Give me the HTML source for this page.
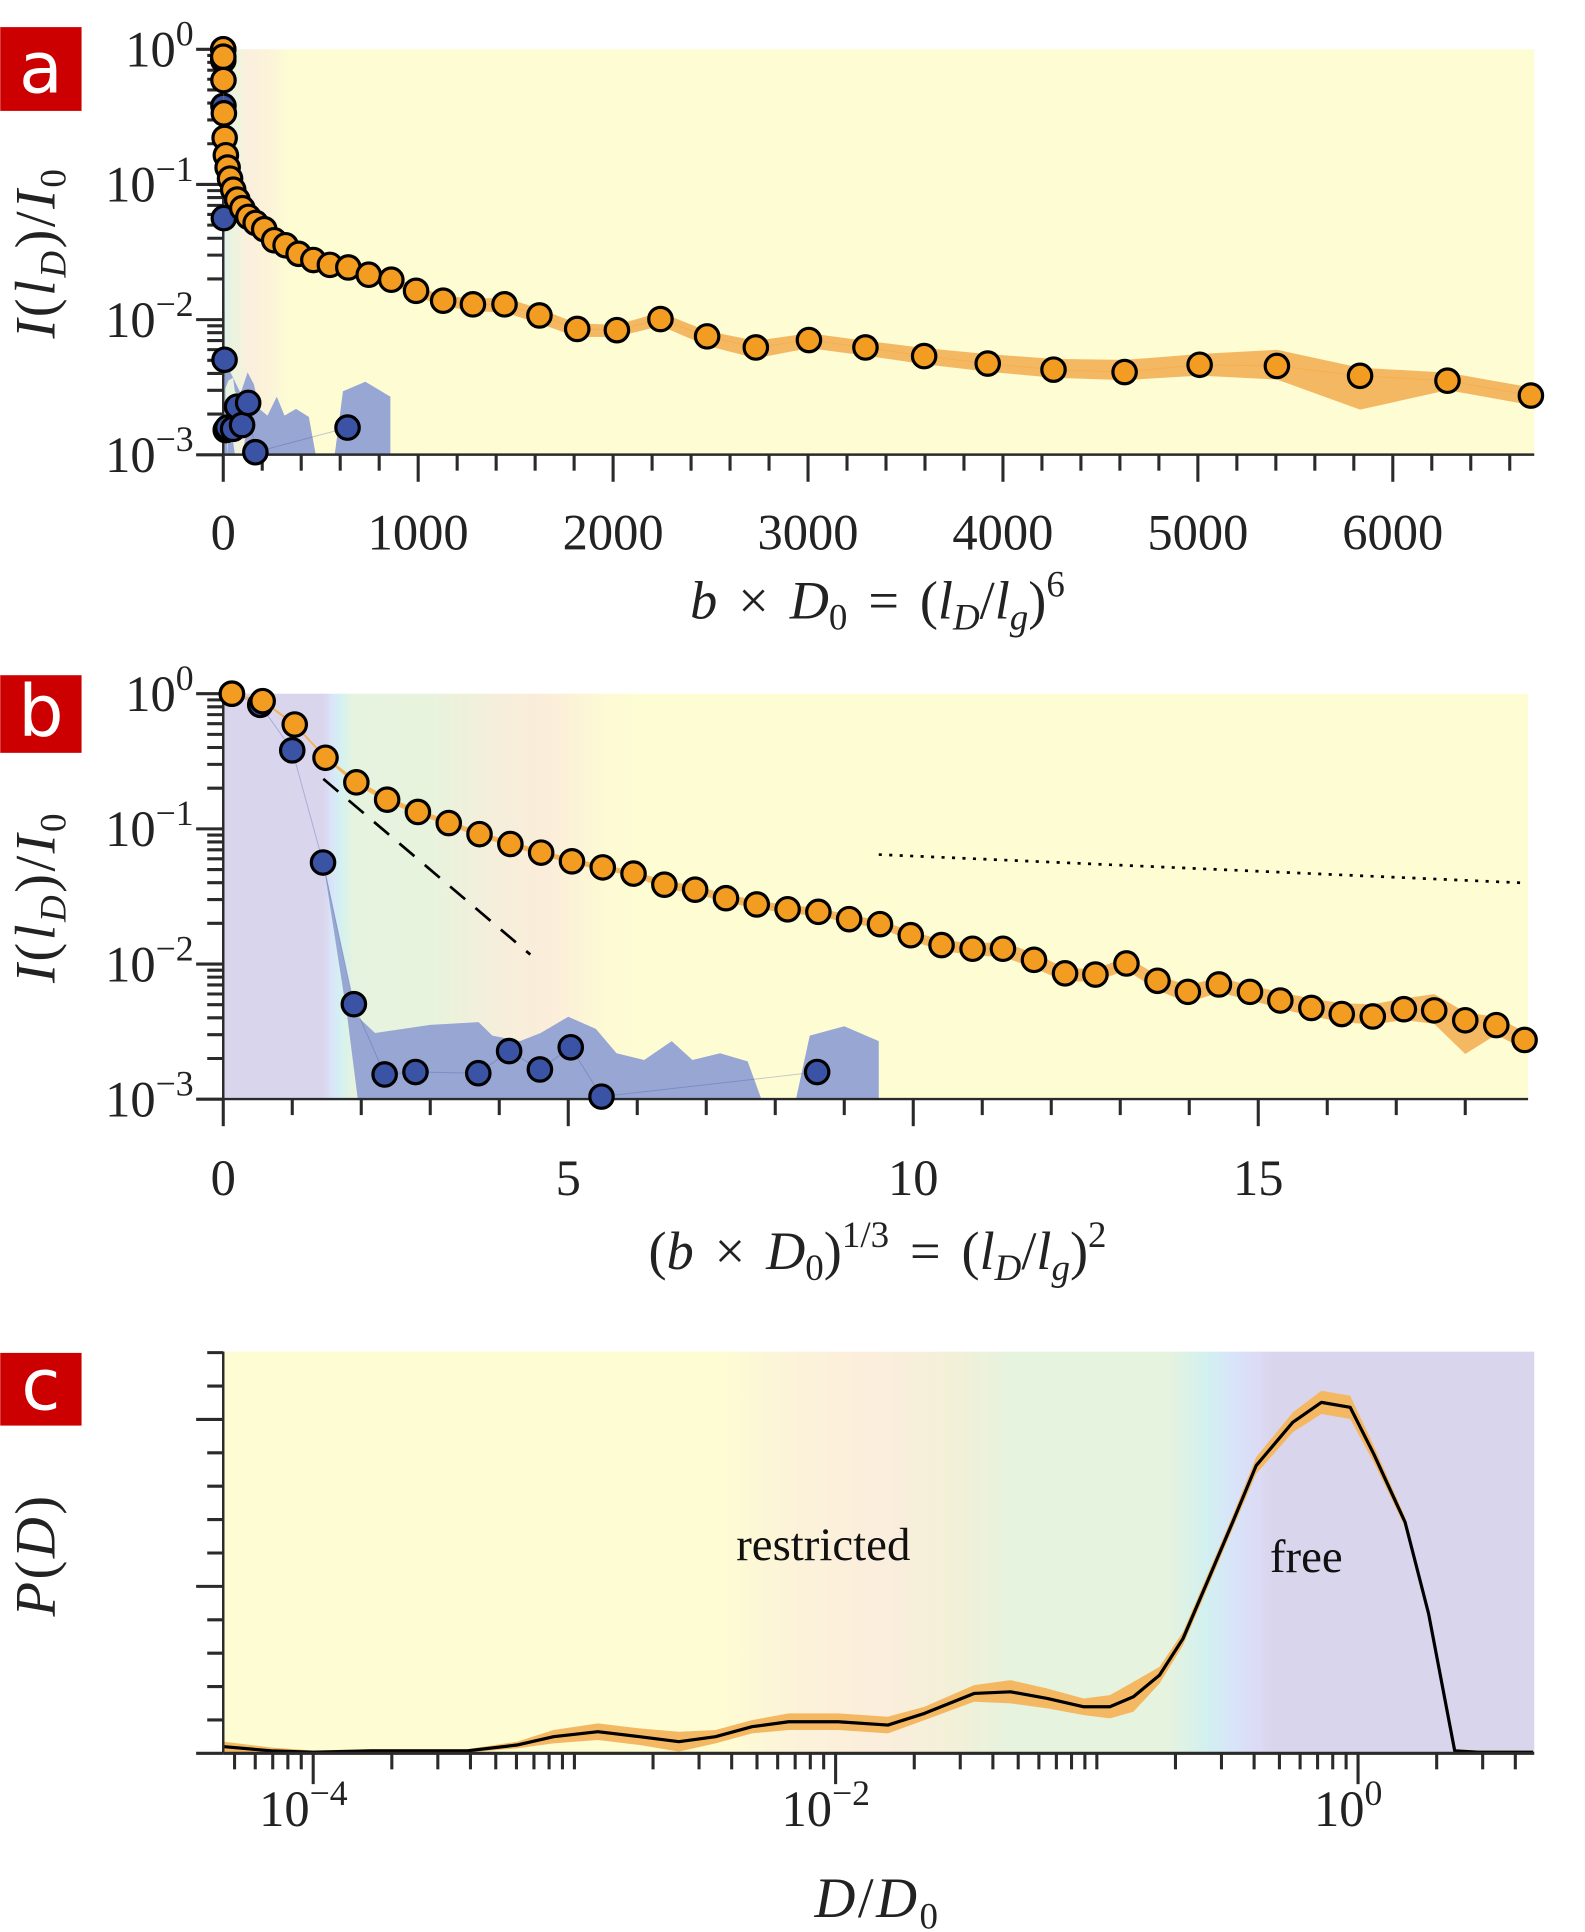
<!DOCTYPE html>
<html><head><meta charset="utf-8"><style>
html,body{margin:0;padding:0;background:#fff;}
svg{display:block;}
text{font-family:"Liberation Serif",serif;fill:#222;}
.it{font-style:italic;}
</style></head><body>
<svg id="fig" width="1585" height="1932" viewBox="0 0 1286 1568" xmlns="http://www.w3.org/2000/svg">
<defs>
<linearGradient id="gA" x1="181" x2="1245" y1="0" y2="0" gradientUnits="userSpaceOnUse">
<stop offset="0" stop-color="#e3f2e6"/><stop offset="0.01" stop-color="#eef3dd"/><stop offset="0.02" stop-color="#fbefdd"/><stop offset="0.035" stop-color="#fcf3d8"/><stop offset="0.05" stop-color="#fdfcd3"/><stop offset="1" stop-color="#fdfcd3"/>
</linearGradient>
<linearGradient id="gB" x1="181" x2="1240" y1="0" y2="0" gradientUnits="userSpaceOnUse">
<stop offset="0" stop-color="#d9d5ec"/><stop offset="0.077" stop-color="#d9d5ec"/><stop offset="0.083" stop-color="#d9e4f8"/><stop offset="0.09" stop-color="#d4f1f1"/><stop offset="0.1" stop-color="#e6f3de"/><stop offset="0.16" stop-color="#e8f3dd"/><stop offset="0.21" stop-color="#f5eedb"/><stop offset="0.25" stop-color="#fbedda"/><stop offset="0.29" stop-color="#fdf9d4"/><stop offset="0.32" stop-color="#fdfcd3"/><stop offset="1" stop-color="#fdfcd3"/>
</linearGradient>
<linearGradient id="gC" x1="181" x2="1245" y1="0" y2="0" gradientUnits="userSpaceOnUse">
<stop offset="0" stop-color="#fdfcd3"/><stop offset="0.38" stop-color="#fdfcd3"/><stop offset="0.44" stop-color="#fcf2da"/><stop offset="0.5" stop-color="#fbeedc"/><stop offset="0.56" stop-color="#f2f0d8"/><stop offset="0.6" stop-color="#e6f3de"/><stop offset="0.72" stop-color="#e6f3de"/><stop offset="0.75" stop-color="#d2f0f0"/><stop offset="0.77" stop-color="#d8e4f8"/><stop offset="0.79" stop-color="#dcdaf5"/><stop offset="0.8" stop-color="#d9d5ec"/><stop offset="1" stop-color="#d9d5ec"/>
</linearGradient>
</defs>
<g id="root"></g>
</svg>
<script>
// ---- panel a/b data: x = (b*D0)^(1/3), y = log10 I/I0 ----
const orangeX = [0.125,0.571,1.036,1.482,1.929,2.375,2.821,3.268,3.714,4.161,4.607,5.054,5.5,5.946,6.393,6.839,7.286,7.732,8.179,8.625,9.071,9.518,9.964,10.41,10.86,11.30,11.75,12.20,12.64,13.09,13.54,13.98,14.43,14.88,15.32,15.77,16.21,16.66,17.11,17.55,18.0,18.45,18.86];
const orangeLogY = [0,-0.055,-0.228,-0.474,-0.656,-0.784,-0.875,-0.957,-1.039,-1.112,-1.176,-1.24,-1.285,-1.331,-1.413,-1.45,-1.513,-1.559,-1.595,-1.614,-1.668,-1.705,-1.787,-1.86,-1.887,-1.887,-1.969,-2.069,-2.078,-1.996,-2.124,-2.206,-2.151,-2.206,-2.27,-2.325,-2.37,-2.388,-2.334,-2.343,-2.416,-2.452,-2.562];
const orangeBandUp = [0.01,0.01,0.01,0.01,0.02,0.02,0.02,0.02,0.02,0.02,0.02,0.02,0.02,0.02,0.03,0.03,0.03,0.03,0.03,0.03,0.03,0.03,0.03,0.04,0.04,0.05,0.05,0.04,0.04,0.05,0.04,0.05,0.05,0.05,0.06,0.07,0.08,0.09,0.08,0.12,0.06,0.06,0.06];
const orangeBandDn = [0.01,0.01,0.01,0.01,0.02,0.02,0.02,0.02,0.02,0.02,0.02,0.02,0.02,0.02,0.03,0.03,0.03,0.03,0.03,0.03,0.03,0.03,0.04,0.04,0.05,0.06,0.06,0.06,0.05,0.05,0.07,0.08,0.06,0.06,0.06,0.06,0.06,0.06,0.08,0.10,0.25,0.07,0.07];
const blueX = [0.125,0.536,1.0,1.446,1.893,2.339,2.786,3.696,4.143,4.589,5.036,5.482,8.607];
const blueLogY = [0,-0.082,-0.419,-1.249,-2.297,-2.817,-2.799,-2.808,-2.644,-2.78,-2.616,-2.981,-2.799];
const blueBandX = [1.893,1.95,2.2,3.0,3.7,3.9,4.3,4.6,5.0,5.4,5.7,6.1,6.5,6.8,7.2,7.6,7.8,8.3,8.5,9.0,9.5];
const blueBandLogY = [-2.3,-2.39,-2.51,-2.45,-2.43,-2.53,-2.57,-2.51,-2.39,-2.48,-2.66,-2.71,-2.57,-2.71,-2.66,-2.72,-3.0,-3.0,-2.53,-2.46,-2.57];
const dashedX = [1.45,4.45], dashedLogY = [-0.63,-1.93];
const dottedX = [9.5,18.85], dottedLogY = [-1.19,-1.40];
const tickA = ['0','1000','2000','3000','4000','5000','6000'];
const tickB = ['0','5','10','15'];
// ---- panel c data ----
const cLogD = [-4.34,-4.16,-4.0,-3.78,-3.55,-3.41,-3.22,-3.08,-2.91,-2.75,-2.60,-2.46,-2.32,-2.18,-1.99,-1.80,-1.66,-1.47,-1.33,-1.19,-1.05,-0.95,-0.86,-0.76,-0.67,-0.58,-0.48,-0.39,-0.25,-0.14,-0.03,0.06,0.18,0.27,0.37,0.46,0.67];
const cP = [0.04,0.015,0.007,0.015,0.015,0.015,0.05,0.10,0.13,0.10,0.07,0.10,0.16,0.19,0.19,0.17,0.24,0.36,0.37,0.33,0.28,0.28,0.34,0.47,0.69,1.02,1.39,1.73,1.99,2.11,2.08,1.80,1.39,0.84,0.015,0.007,0.007];
const cBand = [0.03,0.02,0.01,0.01,0.01,0.01,0.02,0.04,0.05,0.05,0.06,0.04,0.04,0.05,0.05,0.05,0.04,0.05,0.07,0.06,0.05,0.07,0.09,0.05,0.04,0.04,0.04,0.05,0.06,0.07,0.07,0.05,0.03,0.02,0.01,0.01,0.01];
const tickC = ['−4','−2','0'];

const NS='http://www.w3.org/2000/svg';
const root=document.getElementById('root');
function mk(tag,attrs,parent){const e=document.createElementNS(NS,tag);for(const k in attrs)e.setAttribute(k,attrs[k]);(parent||root).appendChild(e);return e;}
const xA=v=>181+v*0.1582, yA=l=>40-l*109.7;
const xB=v=>181+v*56, yB=l=>563-l*109.7;
const xC=l=>678+(l+2)*212, yC=p=>1423-p*135;
const SUB='<tspan font-size="30" dy="9">', SUP='font-size="30"';

function panelBox(x0,y0,x1,y1,grad,name){
  const r=mk('rect',{x:x0,y:y0,width:x1-x0,height:y1-y0,fill:'url(#'+grad+')'});
  
  
}
function letter(y,h,ch){
  const g=mk('g',{});
  
  
  mk('rect',{x:0,y:y,width:66,height:h,fill:'#cc0000'},g);
  const t=mk('text',{x:33,y:y+h*0.78,'text-anchor':'middle','font-size':58,style:'font-family:"DejaVu Sans","Liberation Sans",sans-serif;fill:#fff'},g);
  t.textContent=ch;
}
function line(x1,y1,x2,y2,w,parent,extra){return mk('line',Object.assign({x1,y1,x2,y2,stroke:'#2a2a2a','stroke-width':w},extra||{}),parent);}
function logYAxis(ymap,x,name,yTop,yBot){
  const g=mk('g',{});
  
  
  line(x,yTop,x,yBot,2,g);
  for(let d=0;d>=-3;d--){
    line(x-22,ymap(d),x,ymap(d),2.5,g);
    const t=mk('text',{x:x-24,y:ymap(d)+14,'text-anchor':'end','font-size':41},g);
    
    
    t.innerHTML='10<tspan dy="-17" font-size="29">'+(d===0?'0':'−'+(-d))+'</tspan>';
    if(d>-3)for(let m=2;m<=9;m++){const yy=ymap(d-1+Math.log10(m));line(x-13,yy,x,yy,2.5,g);}
  }
}
function series(xs,ls,xmap,ymap,color,name,lineColor){
  const g=mk('g',{});
  
  
  const pl=mk('polyline',{points:xs.map((v,i)=>xmap(v)+','+ymap(ls[i])).join(' '),fill:'none',stroke:lineColor,'stroke-width':0.8,opacity:0.3},g);
  
  xs.forEach((v,i)=>{
    const c=mk('circle',{cx:xmap(v),cy:ymap(ls[i]),r:9.5,fill:color,stroke:'#000','stroke-width':2.6},g);
    
    
  });
}
function band(xs,up,dn,xmap,ymap,color,name,clipTop,clipBot){
  const pts=[];
  xs.forEach((v,i)=>pts.push(xmap(v)+','+Math.max(clipTop,ymap(up[i]))));
  for(let i=xs.length-1;i>=0;i--)pts.push(xmap(xs[i])+','+Math.min(clipBot,ymap(dn[i])));
  const p=mk('polygon',{points:pts.join(' '),fill:color});
  
  
}
const oUp=orangeLogY.map((v,i)=>v+orangeBandUp[i]);
const oDn=orangeLogY.map((v,i)=>v-orangeBandDn[i]);
const yTitle='<tspan class="it">I</tspan>(<tspan class="it">l</tspan><tspan class="it" font-size="30" dy="9">D</tspan><tspan dy="-9">)/</tspan><tspan class="it">I</tspan><tspan font-size="30" dy="9">0</tspan>';

// ===== Panel a =====
panelBox(181,40,1245,369,'gA','panel-a');
{
  const cube=v=>xA(v*v*v);
  const p=[];
  p.push(xA(0)+','+yA(-3));
  p.push(xA(0)+','+yA(-2.6));p.push(xA(8)+','+yA(-2.75));p.push(xA(18)+','+yA(-2.8));p.push(xA(22)+','+yA(-3));
  p.push(xA(30)+','+yA(-2.7));p.push(xA(45)+','+yA(-2.85));p.push(xA(60)+','+yA(-3));
  p.push(xA(100)+','+yA(-3));p.push(xA(140)+','+yA(-2.6));p.push(xA(165)+','+yA(-2.77));
  const bp=mk('polygon',{points:p.concat(blueBandX.map((v,i)=>cube(v)+','+yA(blueBandLogY[i]))).concat([cube(9.5)+','+yA(-3)]).join(' '),fill:'#97a6d3'});
  
  
  band(orangeX,oUp,oDn,cube,yA,'#f5b862','panel-a-orange-band',40,369);
  const ax=mk('g',{});
  
  
  line(181,369,1245,369,2,ax);
  for(let v=0;v<=6600;v+=200){const big=v%1000===0;line(xA(v),369,xA(v),big?391:382,2.5,ax);}
  tickA.forEach(s=>{const t=mk('text',{x:xA(+s),y:446,'text-anchor':'middle','font-size':41},ax);t.textContent=s;});
  logYAxis(yA,181,'panel-a-y-axis',40,369);
  series(blueX,blueLogY,v=>xA(v*v*v),yA,'#3a53a4','panel-a-blue-series','#3a53a4');
  series(orangeX,orangeLogY,v=>xA(v*v*v),yA,'#f39c22','panel-a-orange-series','#f39c22');
  const xl=mk('text',{x:712,y:502,'text-anchor':'middle','font-size':44,'word-spacing':6});
  
  
  xl.innerHTML='<tspan class="it">b</tspan>   × <tspan class="it">D</tspan>'+SUB+'0</tspan><tspan dy="-9"> = (</tspan><tspan class="it">l</tspan><tspan class="it" font-size="30" dy="9">D</tspan><tspan dy="-9">/</tspan><tspan class="it">l</tspan><tspan class="it" font-size="30" dy="9">g</tspan><tspan dy="-9">)</tspan><tspan '+SUP+' dy="-18">6</tspan>';
  const yl=mk('text',{x:0,y:0,transform:'translate(44,205) rotate(-90)','text-anchor':'middle','font-size':46,'letter-spacing':2});
  
  
  yl.innerHTML=yTitle;
}
letter(22,68,'a');

// ===== Panel b =====
panelBox(181,563,1240,892,'gB','panel-b');
{
  const p=[xB(1.45)+','+yB(-1.25)].concat(blueBandX.map((v,i)=>xB(v)+','+yB(blueBandLogY[i]))).concat([xB(9.5)+','+yB(-3),xB(1.95)+','+yB(-3),xB(1.8)+','+yB(-2.4)]);
  const bp=mk('polygon',{points:p.join(' '),fill:'#97a6d3'});
  
  
  band(orangeX,oUp,oDn,xB,yB,'#f5b862','panel-b-orange-band',563,892);
  const dl=mk('line',{x1:xB(dashedX[0]),y1:yB(dashedLogY[0]),x2:xB(dashedX[1]),y2:yB(dashedLogY[1]),stroke:'#000','stroke-width':2.2,'stroke-dasharray':'16,11'});
  
  
  const ol=mk('line',{x1:xB(dottedX[0]),y1:yB(dottedLogY[0]),x2:xB(dottedX[1]),y2:yB(dottedLogY[1]),stroke:'#000','stroke-width':2.2,'stroke-dasharray':'2.5,6'});
  
  
  const ax=mk('g',{});
  
  
  line(181,892,1240,892,2,ax);
  for(let v=0;v<=18;v++){const big=v%5===0;line(xB(v),892,xB(v),big?914:905,2.5,ax);}
  tickB.forEach(s=>{const t=mk('text',{x:xB(+s),y:970,'text-anchor':'middle','font-size':41},ax);t.textContent=s;});
  logYAxis(yB,181,'panel-b-y-axis',563,892);
  series(blueX,blueLogY,xB,yB,'#3a53a4','panel-b-blue-series','#3a53a4');
  series(orangeX,orangeLogY,xB,yB,'#f39c22','panel-b-orange-series','#f39c22');
  const xl=mk('text',{x:712,y:1030,'text-anchor':'middle','font-size':44,'word-spacing':6});
  
  
  xl.innerHTML='(<tspan class="it">b</tspan>   × <tspan class="it">D</tspan>'+SUB+'0</tspan><tspan dy="-9">)</tspan><tspan '+SUP+' dy="-18">1/3</tspan><tspan dy="18"> = (</tspan><tspan class="it">l</tspan><tspan class="it" font-size="30" dy="9">D</tspan><tspan dy="-9">/</tspan><tspan class="it">l</tspan><tspan class="it" font-size="30" dy="9">g</tspan><tspan dy="-9">)</tspan><tspan '+SUP+' dy="-18">2</tspan>';
  const yl=mk('text',{x:0,y:0,transform:'translate(44,728) rotate(-90)','text-anchor':'middle','font-size':46,'letter-spacing':2});
  
  
  yl.innerHTML=yTitle;
}
letter(548,63,'b');

// ===== Panel c =====
panelBox(181,1097,1245,1423,'gC','panel-c');
{
  band(cLogD,cP.map((v,i)=>v+cBand[i]),cP.map((v,i)=>Math.max(0,v-cBand[i])),xC,yC,'#f5b862','panel-c-band',1097,1423);
  const pl=mk('polyline',{points:cLogD.map((v,i)=>xC(v)+','+yC(cP[i])).join(' '),fill:'none',stroke:'#000','stroke-width':2.6,'stroke-linejoin':'round'});
  
  
  const ax=mk('g',{});
  
  
  line(181,1423,1245,1423,2.5,ax);
  for(let d=-5;d<=0;d++){
    if(d%2===0&&d>=-4)line(xC(d),1423,xC(d),1448,2.5,ax);
    else if(xC(d)>=181)line(xC(d),1423,xC(d),1436,2.5,ax);
    for(let m=2;m<=9;m++){const xx=xC(d+Math.log10(m));if(xx>=181&&xx<=1245)line(xx,1423,xx,1436,2.5,ax);}
  }
  tickC.forEach(s=>{const d=+s.replace('−','-');const t=mk('text',{x:xC(d)-8,y:1482,'text-anchor':'middle','font-size':41},ax);t.innerHTML='10<tspan dy="-17" font-size="29">'+s+'</tspan>';});
  const ay=mk('g',{});
  
  
  line(181,1097,181,1423,2,ay);
  for(let k=0;k<=12;k++){const big=k%5===0;const yy=1423-k*27.1;line(big?159:168,yy,181,yy,2.5,ay);}
  const t1=mk('text',{x:668,y:1266,'text-anchor':'middle','font-size':38,style:'fill:#111'});
  
  
  t1.textContent='restricted';
  const t2=mk('text',{x:1060,y:1276,'text-anchor':'middle','font-size':38,style:'fill:#111'});
  
  
  t2.textContent='free';
  const xl=mk('text',{x:712,y:1556,'text-anchor':'middle','font-size':46,'letter-spacing':2});
  
  
  xl.innerHTML='<tspan class="it">D</tspan>/<tspan class="it">D</tspan><tspan font-size="30" dy="9">0</tspan>';
  const yl=mk('text',{x:0,y:0,transform:'translate(44,1262) rotate(-90)','text-anchor':'middle','font-size':46,'letter-spacing':2});
  
  
  yl.innerHTML='<tspan class="it">P</tspan>(<tspan class="it">D</tspan>)';
}
letter(1098,59,'c');
</script>
</body></html>
